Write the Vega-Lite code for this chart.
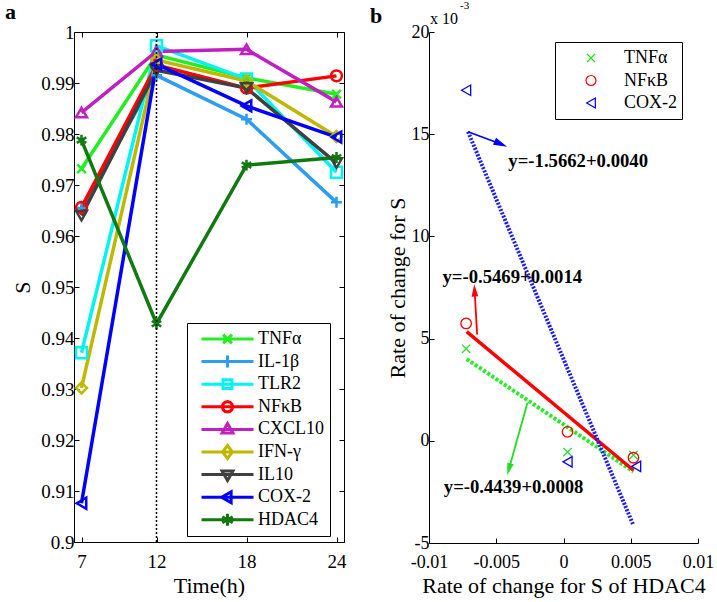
{
  "$schema": "https://vega.github.io/schema/vega-lite/v6.json",
  "background": "white",
  "padding": {"left": 5, "top": 0, "right": 2, "bottom": 5},
  "config": {
    "font": "Liberation Serif",
    "view": {"stroke": null},
    "axis": {"grid": false, "domainColor": "black", "tickColor": "black", "labelColor": "black", "titleColor": "black", "labelFont": "Liberation Serif", "titleFont": "Liberation Serif", "titleFontWeight": "normal", "tickSize": -5, "labelPadding": 5, "domainWidth": 1, "tickWidth": 1, "labelFlush": false},
    "axisX": {"labelPadding": 15},
    "legend": {"labelFont": "Liberation Serif", "labelColor": "black"},
    "title": {"font": "Liberation Serif", "fontWeight": "bold", "fontSize": 22, "color": "black", "anchor": "start", "frame": "group"}
  },
  "datasets": {
    "left": [
      {"gene": "TNFα", "t": 7, "s": 0.9732}, {"gene": "TNFα", "t": 12, "s": 0.9955}, {"gene": "TNFα", "t": 18, "s": 0.9910}, {"gene": "TNFα", "t": 24, "s": 0.9878},
      {"gene": "IL-1β", "t": 7, "s": 0.9655}, {"gene": "IL-1β", "t": 12, "s": 0.9915}, {"gene": "IL-1β", "t": 18, "s": 0.9829}, {"gene": "IL-1β", "t": 24, "s": 0.9666},
      {"gene": "TLR2", "t": 7, "s": 0.9371}, {"gene": "TLR2", "t": 12, "s": 0.9973}, {"gene": "TLR2", "t": 18, "s": 0.9908}, {"gene": "TLR2", "t": 24, "s": 0.9725},
      {"gene": "NFκB", "t": 7, "s": 0.9656}, {"gene": "NFκB", "t": 12, "s": 0.9935}, {"gene": "NFκB", "t": 18, "s": 0.9890}, {"gene": "NFκB", "t": 24, "s": 0.9914},
      {"gene": "CXCL10", "t": 7, "s": 0.9842}, {"gene": "CXCL10", "t": 12, "s": 0.9962}, {"gene": "CXCL10", "t": 18, "s": 0.9966}, {"gene": "CXCL10", "t": 24, "s": 0.9863},
      {"gene": "IFN-γ", "t": 7, "s": 0.9302}, {"gene": "IFN-γ", "t": 12, "s": 0.9945}, {"gene": "IFN-γ", "t": 18, "s": 0.9904}, {"gene": "IFN-γ", "t": 24, "s": 0.9795},
      {"gene": "IL10", "t": 7, "s": 0.9640}, {"gene": "IL10", "t": 12, "s": 0.9925}, {"gene": "IL10", "t": 18, "s": 0.9890}, {"gene": "IL10", "t": 24, "s": 0.9743},
      {"gene": "COX-2", "t": 7, "s": 0.9076}, {"gene": "COX-2", "t": 12, "s": 0.9937}, {"gene": "COX-2", "t": 18, "s": 0.9855}, {"gene": "COX-2", "t": 24, "s": 0.9794},
      {"gene": "HDAC4", "t": 7, "s": 0.9788}, {"gene": "HDAC4", "t": 12, "s": 0.9428}, {"gene": "HDAC4", "t": 18, "s": 0.9739}, {"gene": "HDAC4", "t": 24, "s": 0.9754}
    ],
    "rule": [{"t": 12, "lo": 0.9, "hi": 1}],
    "rightpts": [
      {"gene": "TNFα", "x": -0.00724, "y": 4.5}, {"gene": "TNFα", "x": 0.0003, "y": -0.55}, {"gene": "TNFα", "x": 0.0052, "y": -0.7},
      {"gene": "NFκB", "x": -0.00724, "y": 5.74}, {"gene": "NFκB", "x": 0.0003, "y": 0.44}, {"gene": "NFκB", "x": 0.0052, "y": -0.83},
      {"gene": "COX-2", "x": -0.00724, "y": 17.15}, {"gene": "COX-2", "x": 0.0003, "y": -1.03}, {"gene": "COX-2", "x": 0.0054, "y": -1.25}
    ],
    "regr": [
      {"gene": "TNFα", "x": -0.0072, "y": 4.0}, {"gene": "TNFα", "x": 0.0052, "y": -1.51},
      {"gene": "NFκB", "x": -0.0072, "y": 5.34}, {"gene": "NFκB", "x": 0.0052, "y": -1.44},
      {"gene": "COX-2", "x": -0.0071, "y": 15.12}, {"gene": "COX-2", "x": 0.0052, "y": -4.14}
    ],
    "arrows": [
      {"gene": "COX-2", "x": -0.0071, "y": 15.12, "x2": -0.00466, "y2": 14.52},
      {"gene": "NFκB", "x": -0.00642, "y": 5.2, "x2": -0.00661, "y2": 7.36},
      {"gene": "TNFα", "x": -0.00268, "y": 1.86, "x2": -0.00406, "y2": -1.39}
    ],
    "eqs": [
      {"label": "y=-1.5662+0.0040", "x": -0.0041, "y": 13.7},
      {"label": "y=-0.5469+0.0014", "x": -0.009, "y": 8.0},
      {"label": "y=-0.4439+0.0008", "x": -0.0089, "y": -2.25}
    ],
    "corner": [{"x": -0.01, "y": 20}]
  },
  "spacing": 23,
  "resolve": {"scale": {"color": "independent", "shape": "independent"}, "legend": {"color": "independent", "shape": "independent"}},
  "hconcat": [
    {
      "width": 270,
      "height": 510,
      "title": {"text": "a", "dx": -69, "offset": -1},
      "resolve": {"axis": {"x": "independent", "y": "independent"}},
      "layer": [
        {
          "data": {"name": "left"},
          "mark": {"type": "line", "strokeWidth": 3.5},
          "encoding": {
            "x": {"field": "t", "type": "quantitative", "scale": {"domain": [6.5, 24.5], "nice": false, "zero": false}, "axis": {"values": [7, 12, 18, 24], "title": "Time(h)", "labelFontSize": 19, "titleFontSize": 22, "titlePadding": 4}},
            "y": {"field": "s", "type": "quantitative", "scale": {"domain": [0.9, 1], "nice": false, "zero": false}, "axis": {"values": [0.9, 0.91, 0.92, 0.93, 0.94, 0.95, 0.96, 0.97, 0.98, 0.99, 1], "format": "~g", "title": "S", "labelFontSize": 19, "titleFontSize": 22, "titlePadding": 6}},
            "color": {
              "field": "gene", "type": "nominal",
              "scale": {"domain": ["TNFα", "IL-1β", "TLR2", "NFκB", "CXCL10", "IFN-γ", "IL10", "COX-2", "HDAC4"], "range": ["#22ee22", "#2e9cf0", "#00f4f4", "#ff0000", "#c020c0", "#c0b800", "#404040", "#0000ff", "#107a10"]},
              "legend": {
                "orient": "none", "legendX": 113, "legendY": 291, "title": null, "strokeColor": "black", "fillColor": "white", "padding": 5, "labelFontSize": 18, "symbolSize": 2704, "symbolStrokeWidth": 3, "symbolOffset": 8, "labelOffset": 3, "clipHeight": 22, "rowPadding": 0.6,
                "encode": {"symbols": {"update": {"shape": {"signal": "['M-1,0L1,0M-0.17,-0.17L0.17,0.17M-0.17,0.17L0.17,-0.17','M-1,0L1,0M-0.23,0L0.23,0M0,-0.23L0,0.23','M-1,0L1,0M-0.17,-0.17L0.17,-0.17L0.17,0.17L-0.17,0.17Z','M-1,0L1,0M0.2,0L0.173,0.1L0.1,0.173L0,0.2L-0.1,0.173L-0.173,0.1L-0.2,0L-0.173,-0.1L-0.1,-0.173L0,-0.2L0.1,-0.173L0.173,-0.1Z','M-1,0L1,0M0,-0.23L0.21,0.14L-0.21,0.14Z','M-1,0L1,0M0,-0.25L0.19,0L0,0.25L-0.19,0Z','M-1,0L1,0M0,0.23L0.21,-0.14L-0.21,-0.14Z','M-1,0L1,0M-0.23,0L0.14,-0.21L0.14,0.21Z','M-1,0L1,0M0,-0.23L0,0.23M-0.2,-0.115L0.2,0.115M-0.2,0.115L0.2,-0.115'][indexof(['TNFα','IL-1β','TLR2','NFκB','CXCL10','IFN-γ','IL10','COX-2','HDAC4'], datum.value)]"}, "fill": {"value": "transparent"}, "strokeWidth": {"value": 3}}}}
              }
            }
          }
        },
        {
          "data": {"name": "left"},
          "mark": {"type": "point", "filled": false, "strokeWidth": 2.5, "size": 120, "opacity": 1},
          "encoding": {
            "x": {"field": "t", "type": "quantitative", "axis": null},
            "y": {"field": "s", "type": "quantitative", "axis": null},
            "color": {"field": "gene", "type": "nominal", "legend": null},
            "shape": {
              "field": "gene", "type": "nominal", "legend": null,
              "scale": {"domain": ["HDAC4", "COX-2", "IL10", "IFN-γ", "CXCL10", "NFκB", "TLR2", "IL-1β", "TNFα"], "range": ["M0,-1L0,1M-0.87,-0.5L0.87,0.5M-0.87,0.5L0.87,-0.5", "triangle-left", "triangle-down", "diamond", "triangle-up", "circle", "square", "M-1,0L1,0M0,-1L0,1", "M-0.8,-0.8L0.8,0.8M-0.8,0.8L0.8,-0.8"]}
            }
          }
        },
        {
          "data": {"name": "rule"},
          "mark": {"type": "rule", "color": "black", "strokeDash": [2, 2], "strokeWidth": 1.5},
          "encoding": {
            "x": {"field": "t", "type": "quantitative", "axis": {"orient": "top", "labels": false, "title": null, "values": [7, 12, 18, 24]}},
            "y": {"field": "lo", "type": "quantitative", "axis": {"orient": "right", "labels": false, "title": null, "values": [0.9, 0.91, 0.92, 0.93, 0.94, 0.95, 0.96, 0.97, 0.98, 0.99, 1]}},
            "y2": {"field": "hi"}
          }
        }
      ]
    },
    {
      "width": 269,
      "height": 511,
      "title": {"text": "b", "dx": -59, "offset": -28},
      "layer": [
        {
          "data": {"name": "regr"},
          "transform": [{"filter": "datum.gene == 'TNFα'"}],
          "mark": {"type": "line", "color": "#22ee22", "strokeWidth": 4, "strokeDash": [3, 2]},
          "encoding": {
            "x": {"field": "x", "type": "quantitative", "scale": {"domain": [-0.01, 0.01], "nice": false, "zero": false}, "axis": {"values": [-0.01, -0.005, 0, 0.005, 0.01], "labelExpr": "replace(format(datum.value, '~g'), '−', '-')", "title": "Rate of change for S of HDAC4", "labelFontSize": 18, "titleFontSize": 22, "titlePadding": 4}},
            "y": {"field": "y", "type": "quantitative", "scale": {"domain": [-5, 20], "nice": false, "zero": false}, "axis": {"values": [-5, 0, 5, 10, 15, 20], "labelExpr": "replace(format(datum.value, '~g'), '−', '-')", "title": "Rate of change for S", "labelFontSize": 18, "titleFontSize": 22, "titlePadding": 2}}
          }
        },
        {
          "data": {"name": "regr"},
          "transform": [{"filter": "datum.gene == 'NFκB'"}],
          "mark": {"type": "line", "color": "#ff0000", "strokeWidth": 3.5},
          "encoding": {
            "x": {"field": "x", "type": "quantitative"},
            "y": {"field": "y", "type": "quantitative"}
          }
        },
        {
          "data": {"name": "regr"},
          "transform": [{"filter": "datum.gene == 'COX-2'"}],
          "mark": {"type": "line", "color": "#1a1aff", "strokeWidth": 4, "strokeDash": [2, 1.5]},
          "encoding": {
            "x": {"field": "x", "type": "quantitative"},
            "y": {"field": "y", "type": "quantitative"}
          }
        },
        {
          "data": {"name": "rightpts"},
          "mark": {"type": "point", "filled": false, "strokeWidth": 1.3, "size": 110, "opacity": 1},
          "encoding": {
            "x": {"field": "x", "type": "quantitative"},
            "y": {"field": "y", "type": "quantitative"},
            "color": {
              "field": "gene", "type": "nominal",
              "scale": {"domain": ["TNFα", "NFκB", "COX-2"], "range": ["#22dd22", "#ff0000", "#0000ff"]},
              "legend": {"orient": "none", "legendX": 126, "legendY": 10, "title": null, "strokeColor": "black", "fillColor": "white", "padding": 5, "labelFontSize": 18, "symbolSize": 100, "symbolStrokeWidth": 1.2, "symbolOffset": 22, "labelOffset": 24, "clipHeight": 22, "rowPadding": 0.5}
            },
            "shape": {
              "field": "gene", "type": "nominal", "legend": null,
              "scale": {"domain": ["TNFα", "NFκB", "COX-2"], "range": ["M-0.8,-0.8L0.8,0.8M-0.8,0.8L0.8,-0.8", "circle", "triangle-left"]}
            }
          }
        },
        {
          "data": {"name": "arrows"},
          "mark": {"type": "rule", "strokeWidth": 1.8},
          "encoding": {
            "x": {"field": "x", "type": "quantitative"},
            "y": {"field": "y", "type": "quantitative"},
            "x2": {"field": "x2"},
            "y2": {"field": "y2"},
            "color": {"field": "gene", "type": "nominal", "legend": null}
          }
        },
        {
          "data": {"values": [{"x": -0.00466, "y": 14.52}]},
          "mark": {"type": "point", "shape": "M0,-1L0.55,1L-0.55,1Z", "filled": true, "color": "#0000ff", "size": 190, "angle": 114, "opacity": 1},
          "encoding": {
            "x": {"field": "x", "type": "quantitative"},
            "y": {"field": "y", "type": "quantitative"}
          }
        },
        {
          "data": {"values": [{"x": -0.00661, "y": 7.36}]},
          "mark": {"type": "point", "shape": "M0,-1L0.55,1L-0.55,1Z", "filled": true, "color": "#ff0000", "size": 150, "angle": -3, "opacity": 1},
          "encoding": {
            "x": {"field": "x", "type": "quantitative"},
            "y": {"field": "y", "type": "quantitative"}
          }
        },
        {
          "data": {"values": [{"x": -0.00406, "y": -1.39}]},
          "mark": {"type": "point", "shape": "M0,-1L0.55,1L-0.55,1Z", "filled": true, "color": "#22dd22", "size": 150, "angle": 195, "opacity": 1},
          "encoding": {
            "x": {"field": "x", "type": "quantitative"},
            "y": {"field": "y", "type": "quantitative"}
          }
        },
        {
          "data": {"name": "eqs"},
          "mark": {"type": "text", "align": "left", "baseline": "middle", "fontSize": 18.7, "fontWeight": "bold", "font": "Liberation Serif", "color": "black"},
          "encoding": {
            "x": {"field": "x", "type": "quantitative"},
            "y": {"field": "y", "type": "quantitative"},
            "text": {"field": "label"}
          }
        },
        {
          "data": {"name": "corner"},
          "mark": {"type": "text", "align": "left", "baseline": "bottom", "fontSize": 16, "font": "Liberation Serif", "color": "black", "dx": 1, "dy": -5.5},
          "encoding": {
            "x": {"field": "x", "type": "quantitative"},
            "y": {"field": "y", "type": "quantitative"},
            "text": {"value": "x 10"}
          }
        },
        {
          "data": {"name": "corner"},
          "mark": {"type": "text", "align": "left", "baseline": "bottom", "fontSize": 11, "font": "Liberation Serif", "color": "black", "dx": 31, "dy": -21},
          "encoding": {
            "x": {"field": "x", "type": "quantitative"},
            "y": {"field": "y", "type": "quantitative"},
            "text": {"value": "-3"}
          }
        }
      ]
    }
  ]
}
